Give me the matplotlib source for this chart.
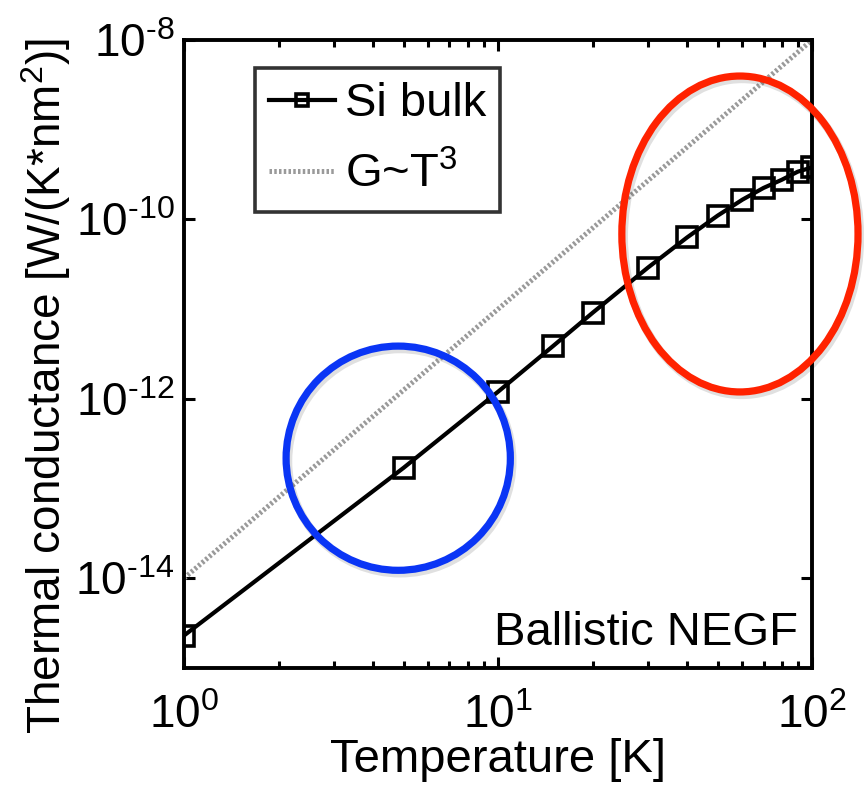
"""Ballistic NEGF thermal conductance of bulk Si versus temperature, log-log."""
import matplotlib
matplotlib.use("Agg")
import matplotlib.pyplot as plt
import matplotlib.ticker as mticker
import matplotlib.transforms as mtransforms
from matplotlib.patches import Ellipse
import numpy as np

plt.rcParams["font.family"] = ["Liberation Sans", "DejaVu Sans"]
plt.rcParams["mathtext.fontset"] = "custom"
plt.rcParams["mathtext.rm"] = "Liberation Sans"
plt.rcParams["mathtext.default"] = "regular"

# Si bulk conductance [W/(K*nm^2)] at each temperature [K]
temperature = [1, 5, 10, 15, 20, 30, 40, 50, 60, 70, 80, 90, 100]
conductance = [2.3e-15, 1.7e-13, 1.2e-12, 3.9e-12, 9.1e-12, 2.9e-11, 6.3e-11,
               1.1e-10, 1.66e-10, 2.24e-10, 2.76e-10, 3.4e-10, 3.8e-10]

# reference T^3 scaling line
t3_temperature = [1, 100]
t3_prefactor = 1e-14

FS = 34
TICK_FS = 33


def pow10(v, pos):
    e = int(round(np.log10(v)))
    return r"$10^{\text{%d}}$" % e


fig = plt.figure(figsize=(8.64, 7.89), dpi=100)
ax = fig.add_axes([0.213, 0.1534, 0.727, 0.796])

t3 = np.array(t3_temperature, dtype=float)
ax.plot(t3, t3_prefactor * t3**3, color="#9a9a9a", lw=3.6,
        dashes=(0.5, 0.45), label="G~T$^3$", zorder=2)
ax.plot(temperature, conductance, color="black", lw=3.0, marker="s",
        ms=14, mfc="none", mec="black", mew=2.6, label="Si bulk", zorder=3)

ax.set_xscale("log")
ax.set_yscale("log")
ax.set_xlim(1, 100)
ax.set_ylim(1e-15, 1e-8)

ax.xaxis.set_major_locator(mticker.LogLocator(base=10, numticks=10))
ax.xaxis.set_minor_locator(mticker.LogLocator(base=10, subs=np.arange(2, 10), numticks=10))
ax.yaxis.set_major_locator(mticker.FixedLocator([1e-14, 1e-12, 1e-10, 1e-8]))
ax.yaxis.set_minor_locator(mticker.NullLocator())
ax.xaxis.set_major_formatter(mticker.FuncFormatter(pow10))
ax.yaxis.set_major_formatter(mticker.FuncFormatter(pow10))

ax.tick_params(which="both", direction="in", top=True, right=True, width=2.2)
ax.tick_params(which="major", length=8)
ax.tick_params(which="minor", length=5)
ax.tick_params(axis="x", labelsize=TICK_FS, pad=19)
ax.tick_params(axis="y", labelsize=TICK_FS, pad=7)
for sp in ax.spines.values():
    sp.set_linewidth(2.8)

ax.set_xlabel("Temperature [K]", fontsize=FS, labelpad=0)
ax.set_ylabel("Thermal conductance [W/(K*nm$^2$)]", fontsize=33)
ax.yaxis.set_label_coords(-0.177, 0.45)

handles, labels = ax.get_legend_handles_labels()
leg = ax.legend(handles[::-1], labels[::-1], loc="upper left",
                bbox_to_anchor=(0.113, 0.955), fontsize=FS, handlelength=1.4,
                handletextpad=0.2, borderpad=0.3, labelspacing=0.55,
                borderaxespad=0, fancybox=False, edgecolor="black",
                markerscale=0.65)
leg.get_frame().set_linewidth(2.6)

ax.text(0.978, 0.056, "Ballistic NEGF", transform=ax.transAxes,
        fontsize=FS, ha="right", va="center")

# highlight the low- and high-temperature regimes, with a soft drop shadow
shift = mtransforms.ScaledTranslation(2 / 100, -3 / 100, fig.dpi_scale_trans)
for (cx, cy, w, h, col) in [(0.341, 0.334, 0.357, 0.357, "#0a35f5"),
                            (0.885, 0.691, 0.376, 0.503, "#ff2200")]:
    ax.add_patch(Ellipse((cx, cy), w, h, transform=ax.transAxes + shift,
                         fill=False, ec="black", alpha=0.12, lw=6,
                         clip_on=False, zorder=4))
    ax.add_patch(Ellipse((cx, cy), w, h, transform=ax.transAxes,
                         fill=False, ec=col, lw=5.2, clip_on=False, zorder=5))

fig.savefig("out.png", dpi=100)
